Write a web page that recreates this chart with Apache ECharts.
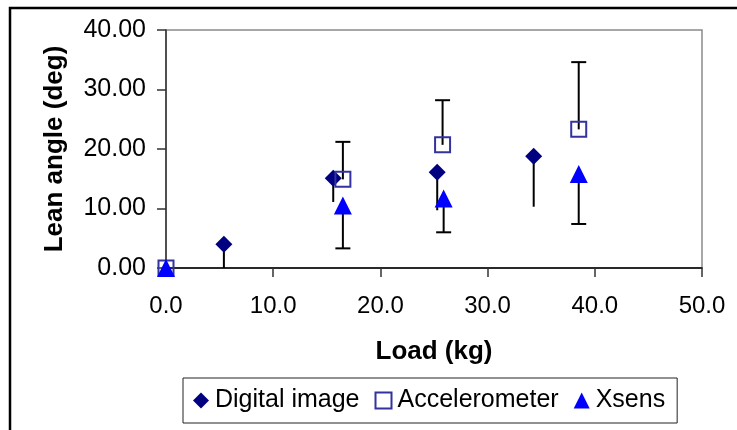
<!DOCTYPE html>
<html>
<head>
<meta charset="utf-8">
<script src="https://cdn.jsdelivr.net/npm/echarts@6/dist/echarts.min.js"></script>
<style>
  html, body { margin: 0; padding: 0; background: #ffffff; }
  #chart { width: 737px; height: 430px; }
</style>
</head>
<body>
<div id="chart"></div>
<script>
// Lean angle measured by three methods at increasing loads
const seriesNames = ['Digital image', 'Accelerometer', 'Xsens'];

const loadDigital = [5.4, 15.6, 25.3, 34.3];
const angleDigital = [4.0, 15.1, 16.1, 18.8];
const errDigitalMinus = [4.0, 4.0, 6.4, 8.5];

const loadAccel = [0.0, 16.5, 25.8, 38.5];
const angleAccel = [0.0, 14.9, 20.7, 23.3];
const errAccelPlus = [0.0, 6.3, 7.5, 11.3];

const loadXsens = [0.0, 16.5, 25.9, 38.5];
const angleXsens = [0.0, 10.5, 11.7, 15.8];
const errXsensMinus = [0.0, 7.2, 5.7, 8.4];

const xTicks = [0, 10, 20, 30, 40, 50];
const yTicks = [0, 10, 20, 30, 40];

const pairs = (xs, ys) => xs.map((x, i) => [x, ys[i]]);

// error bar rows: [x, low, high]
const minusBars = (xs, ys, err) => xs.map((x, i) => [x, ys[i] - err[i], ys[i]]).filter((d, i) => err[i] > 0);
const plusBars = (xs, ys, err) => xs.map((x, i) => [x, ys[i], ys[i] + err[i]]).filter((d, i) => err[i] > 0);

function errorBarRenderer(capLow, capHigh) {
  return function (params, api) {
    const x = api.value(0);
    const pLow = api.coord([x, api.value(1)]);
    const pHigh = api.coord([x, api.value(2)]);
    const style = { stroke: '#000000', lineWidth: 2 };
    const half = 7.5;
    const children = [{
      type: 'line',
      shape: { x1: pLow[0], y1: pLow[1], x2: pHigh[0], y2: pHigh[1] },
      style: style
    }];
    if (capLow) {
      children.push({ type: 'line', shape: { x1: pLow[0] - half, y1: pLow[1], x2: pLow[0] + half, y2: pLow[1] }, style: style });
    }
    if (capHigh) {
      children.push({ type: 'line', shape: { x1: pHigh[0] - half, y1: pHigh[1], x2: pHigh[0] + half, y2: pHigh[1] }, style: style });
    }
    return { type: 'group', children: children };
  };
}

const chart = echarts.init(document.getElementById('chart'), null, { renderer: 'canvas' });

const fontFamily = 'Liberation Sans, Arial, sans-serif';

chart.setOption({
  animation: false,
  backgroundColor: '#ffffff',
  textStyle: { fontFamily: fontFamily },
  graphic: [{
    type: 'rect',
    shape: { x: 10, y: 8, width: 740, height: 440 },
    style: { fill: 'none', stroke: '#000000', lineWidth: 2.5 },
    silent: true,
    z: 0
  }],
  grid: {
    left: 166, top: 30, right: 35, bottom: 162,
    show: true, borderColor: '#8a8a8a', borderWidth: 1.5, backgroundColor: '#ffffff'
  },
  legend: {
    data: seriesNames,
    left: 183, top: 378,
    orient: 'horizontal',
    padding: [10, 12, 10, 10],
    itemGap: 15,
    itemWidth: 16, itemHeight: 16,
    borderColor: '#222222', borderWidth: 1,
    backgroundColor: '#ffffff',
    textStyle: { fontSize: 25, color: '#000000', fontFamily: fontFamily, padding: [0, 0, 0, 1] }
  },
  xAxis: {
    type: 'value',
    min: 0, max: 50, interval: 10,
    name: 'Load (kg)',
    nameLocation: 'middle',
    nameGap: 71,
    nameTextStyle: { fontSize: 26, fontWeight: 'bold', color: '#000000', fontFamily: fontFamily },
    axisLine: { show: true, lineStyle: { color: '#000000', width: 1.5 } },
    axisTick: { show: true, inside: false, length: 9, lineStyle: { color: '#333333', width: 1.5 } },
    axisLabel: {
      fontSize: 24, color: '#000000', margin: 26, fontFamily: fontFamily,
      formatter: v => (xTicks.includes(v) ? v.toFixed(1) : '')
    },
    splitLine: { show: false }
  },
  yAxis: {
    type: 'value',
    min: 0, max: 40, interval: 10,
    name: 'Lean angle (deg)',
    nameLocation: 'middle',
    nameRotate: 90,
    nameGap: 98,
    nameTextStyle: { fontSize: 26, fontWeight: 'bold', color: '#000000', fontFamily: fontFamily },
    axisLine: { show: true, lineStyle: { color: '#333333', width: 1.5 } },
    axisTick: { show: true, inside: false, length: 9, lineStyle: { color: '#333333', width: 1.5 } },
    axisLabel: {
      fontSize: 25, color: '#000000', margin: 20, fontFamily: fontFamily,
      formatter: v => (yTicks.includes(v) ? v.toFixed(2) : '')
    },
    splitLine: { show: false }
  },
  series: [
    {
      name: 'Digital image errors', type: 'custom', clip: false, z: 2,
      renderItem: errorBarRenderer(false, false),
      data: minusBars(loadDigital, angleDigital, errDigitalMinus),
      encode: { x: 0, y: [1, 2] }
    },
    {
      name: 'Accelerometer errors', type: 'custom', clip: false, z: 2,
      renderItem: errorBarRenderer(false, true),
      data: plusBars(loadAccel, angleAccel, errAccelPlus),
      encode: { x: 0, y: [1, 2] }
    },
    {
      name: 'Xsens errors', type: 'custom', clip: false, z: 2,
      renderItem: errorBarRenderer(true, false),
      data: minusBars(loadXsens, angleXsens, errXsensMinus),
      encode: { x: 0, y: [1, 2] }
    },
    {
      name: seriesNames[0], type: 'scatter', clip: false, z: 3,
      symbol: 'diamond', symbolSize: 17,
      itemStyle: { color: '#000080', opacity: 1 },
      data: pairs(loadDigital, angleDigital)
    },
    {
      name: seriesNames[1], type: 'scatter', clip: false, z: 3,
      symbol: 'rect', symbolSize: 15,
      itemStyle: { color: 'rgba(0,0,0,0)', borderColor: '#3333a0', borderWidth: 2, opacity: 1 },
      data: pairs(loadAccel, angleAccel)
    },
    {
      name: seriesNames[2], type: 'scatter', clip: false, z: 3,
      symbol: 'triangle', symbolSize: 18,
      itemStyle: { color: '#0000ff', opacity: 1 },
      data: pairs(loadXsens, angleXsens)
    }
  ]
});
</script>
</body>
</html>
